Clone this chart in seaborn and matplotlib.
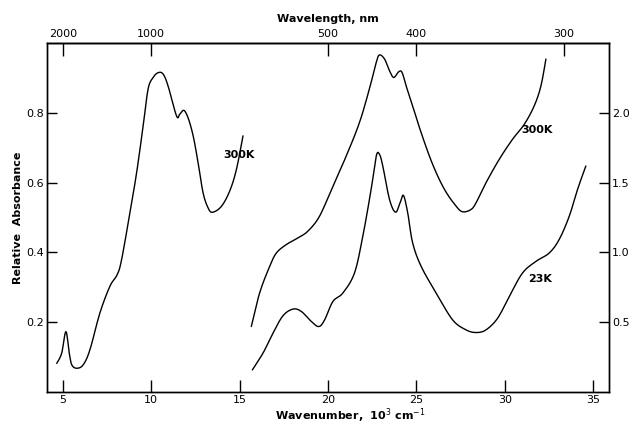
import numpy as np
import pandas as pd
import matplotlib
matplotlib.use("Agg")
import matplotlib.pyplot as plt
import seaborn as sns

# Near-IR band, 300K (left axis)
nir_wn = [4.65, 4.93, 5.17, 5.36, 5.50, 5.78, 6.15, 6.53, 7.09, 7.66, 8.07, 8.32, 8.79, 9.17,
          9.54, 9.82, 10.10, 10.39, 10.67, 10.95, 11.43, 11.61, 11.84, 12.08, 12.37, 12.65,
          12.93, 13.21, 13.46, 13.97, 14.44, 14.82, 15.19]
nir_abs = [0.082, 0.111, 0.173, 0.111, 0.078, 0.068, 0.078, 0.121, 0.226, 0.303, 0.336, 0.379,
           0.513, 0.628, 0.762, 0.868, 0.901, 0.915, 0.911, 0.877, 0.791, 0.796, 0.807, 0.786,
           0.734, 0.657, 0.571, 0.528, 0.515, 0.532, 0.576, 0.638, 0.734]

# Visible/UV, 300K (right axis)
vis300_wn = [15.66, 16.13, 16.70, 17.08, 17.64, 18.30, 18.86, 19.52, 20.28, 21.03, 21.78, 22.34,
             22.73, 22.91, 23.20, 23.48, 23.72, 24.00, 24.19, 24.42, 24.70, 25.27, 25.92, 26.59,
             27.25, 27.62, 28.09, 28.38, 28.94, 29.69, 30.44, 31.11, 31.67, 32.05, 32.33]
vis300_abs = [0.469, 0.709, 0.900, 0.996, 1.056, 1.104, 1.152, 1.259, 1.475, 1.690, 1.930, 2.170,
              2.361, 2.414, 2.385, 2.301, 2.253, 2.294, 2.289, 2.193, 2.085, 1.858, 1.631, 1.451,
              1.331, 1.291, 1.307, 1.356, 1.499, 1.667, 1.810, 1.918, 2.050, 2.193, 2.385]

# Visible/UV, 23K (right axis)
vis23_wn = [15.72, 16.32, 16.89, 17.45, 18.02, 18.49, 19.06, 19.48, 19.81, 20.28, 20.84, 21.50,
            21.97, 22.44, 22.73, 22.91, 23.10, 23.48, 23.82, 24.08, 24.27, 24.51, 24.79, 25.27,
            26.12, 27.05, 27.81, 28.38, 28.94, 29.60, 30.26, 31.01, 31.77, 32.52, 33.08, 33.65,
            34.12, 34.59]
vis23_abs = [0.158, 0.278, 0.422, 0.546, 0.594, 0.577, 0.505, 0.469, 0.517, 0.649, 0.709, 0.853,
             1.116, 1.451, 1.690, 1.703, 1.619, 1.379, 1.288, 1.356, 1.408, 1.284, 1.068, 0.900,
             0.709, 0.517, 0.445, 0.426, 0.445, 0.529, 0.685, 0.853, 0.936, 0.996, 1.092, 1.259,
             1.451, 1.619]

left_ticks = [0.2, 0.4, 0.6, 0.8]
right_ticks = [0.5, 1.0, 1.5, 2.0]
bottom_ticks = [5, 10, 15, 20, 25, 30, 35]
top_ticks = [2000, 1000, 500, 400, 300]


def smooth(xs, ys, n=8):
    # Catmull-Rom interpolation between read points for a smooth drawn line
    xs = np.asarray(xs, float); ys = np.asarray(ys, float)
    P = np.column_stack([xs, ys])
    P = np.vstack([P[0], P, P[-1]])
    out = []
    for i in range(1, len(P) - 2):
        p0, p1, p2, p3 = P[i - 1], P[i], P[i + 1], P[i + 2]
        for t in np.linspace(0, 1, n, endpoint=False):
            t2, t3 = t * t, t * t * t
            out.append(0.5 * ((2 * p1) + (-p0 + p2) * t + (2 * p0 - 5 * p1 + 4 * p2 - p3) * t2
                              + (-p0 + 3 * p1 - 3 * p2 + p3) * t3))
    out.append(P[-2])
    out = np.array(out)
    return out[:, 0], out[:, 1]


sns.set_style("ticks")
plt.rcParams['font.family'] = ['DejaVu Sans']
plt.rcParams['text.color'] = 'black'
plt.rcParams['axes.labelcolor'] = 'black'
plt.rcParams['xtick.color'] = 'black'
plt.rcParams['ytick.color'] = 'black'

fig = plt.figure(figsize=(6.33, 4.25), dpi=100)
ax = fig.add_axes([47 / 633, 33 / 425, 562 / 633, 349 / 425])
ax2 = ax.twinx()

x, y = smooth(nir_wn, nir_abs)
sns.lineplot(data=pd.DataFrame({"wn": x, "a": y}), x="wn", y="a", ax=ax, color="black",
             lw=1.0, sort=False, estimator=None)
for wn, ab in [(vis300_wn, vis300_abs), (vis23_wn, vis23_abs)]:
    x, y = smooth(wn, ab)
    sns.lineplot(data=pd.DataFrame({"wn": x, "a": y}), x="wn", y="a", ax=ax2, color="black",
                 lw=1.0, sort=False, estimator=None)

ax.set_xlim(4.1, 35.9)
ax.set_ylim(0, 1.0)
ax2.set_ylim(0, 2.5)

ax.set_xticks(bottom_ticks)
ax.set_xticklabels([str(t) for t in bottom_ticks])
ax.set_yticks(left_ticks)
ax.set_yticklabels([f"{t:.1f}" for t in left_ticks])
ax2.set_yticks(right_ticks)
ax2.set_yticklabels([f"{t:.1f}" for t in right_ticks])

ax.tick_params(axis='x', direction='in', length=9, width=1, labelsize=8, pad=2)
ax.tick_params(axis='y', direction='in', length=7, width=1, labelsize=8, pad=2)
ax2.tick_params(axis='y', direction='in', length=7, width=1, labelsize=8, pad=2)

ax.set_xlabel("Wavenumber,  10$^3$ cm$^{-1}$", fontsize=8, fontweight='bold')
ax.xaxis.set_label_coords(0.54, -0.067)
ax.xaxis.label.set_va('center')
ax.set_ylabel("Relative  Absorbance", fontsize=8, fontweight='bold')
ax.yaxis.set_label_coords(-0.052, 0.5)
ax.yaxis.label.set_va('center')
ax2.set_ylabel("")


def wn2nm(v):
    v = np.asarray(v, float)
    with np.errstate(divide='ignore', invalid='ignore'):
        return np.where(v != 0, 1e4 / np.where(v != 0, v, 1), np.inf)


secax = ax.secondary_xaxis('top', functions=(wn2nm, wn2nm))
secax.set_xticks(top_ticks)
secax.set_xticklabels([str(t) for t in top_ticks])
secax.tick_params(axis='x', direction='in', length=9, width=1, labelsize=8, pad=3)
secax.minorticks_off()
secax.set_xlabel("Wavelength, nm", fontsize=8, fontweight='bold', labelpad=5)

for a in (ax, ax2):
    for s in a.spines.values():
        s.set_visible(True)
        s.set_color('black')
        s.set_linewidth(1.0)
secax.spines['top'].set_linewidth(1.0)

ax.text(14.1, 0.68, "300K", fontsize=8, fontweight='bold', ha='left', va='center')
ax2.text(30.95, 1.88, "300K", fontsize=8, fontweight='bold', ha='left', va='center')
ax2.text(31.35, 0.81, "23K", fontsize=8, fontweight='bold', ha='left', va='center')

fig.savefig("out.png", dpi=100)
